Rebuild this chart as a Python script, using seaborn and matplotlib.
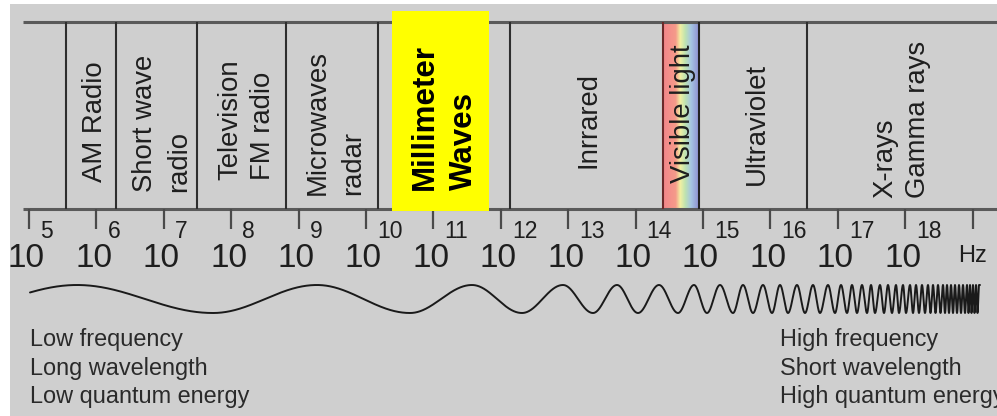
import numpy as np
import matplotlib
matplotlib.use("Agg")
import matplotlib.pyplot as plt
import seaborn as sns
from matplotlib.patches import Rectangle
from matplotlib.colors import LinearSegmentedColormap

sns.set_theme(style="white")
plt.rcParams['font.family'] = ['Liberation Sans', 'DejaVu Sans']

# ---------------- data ----------------
tick_exponents = list(range(5, 20))          # tick marks (10^5 .. 10^19)
label_exponents = list(range(5, 19))         # labelled ticks (10^5 .. 10^18)
band_boundaries = [5.55, 6.29, 7.49, 8.81, 10.18, 12.14, 16.54]  # log10(Hz)
visible_band = [14.41, 14.94]                # log10(Hz)
millimeter_band = [10.39, 11.83]             # log10(Hz), highlighted box
band_names = ["AM Radio", "Short wave", "radio", "Television", "FM radio",
              "Microwaves", "radar", "Inrrared", "Visible light",
              "Ultraviolet", "X-rays", "Gamma rays"]
highlight_lines = ["Millimeter", "Waves"]
left_notes = ["Low frequency", "Long wavelength", "Low quantum energy"]
right_notes = ["High frequency", "Short wavelength", "High quantum energy"]
# x positions (px) of successive crests / troughs of the chirp wave
wave_extrema_px = [77, 213, 317, 410, 472, 522, 563, 593, 617, 638, 659, 678,
                   694, 707, 720, 733, 743, 753, 763, 772, 780, 788, 797, 805,
                   813, 820, 828, 835, 841, 847, 852, 857, 862, 867, 871, 875,
                   880, 884, 888, 892, 896, 899, 903, 906, 910, 913, 916, 919,
                   922, 925, 928, 930.5, 933, 935.5, 938, 940.5, 943, 945,
                   947, 949, 951, 953, 955, 957, 959, 961, 963, 965, 967,
                   968.5, 970, 971.5, 973, 974.5, 976, 977.5, 979]

# ---------------- layout ----------------
W, H = 997, 416
PX0, PXDEC = 29.0, 67.4          # pixel of 10^5 tick, pixels per decade


def dec(px):
    return 5 + (px - PX0) / PXDEC


fig = plt.figure(figsize=(W / 100, H / 100), dpi=100, facecolor="white")

# pixel-coordinate background axes
axb = fig.add_axes([0, 0, 1, 1])
axb.set_xlim(0, W)
axb.set_ylim(H, 0)
axb.axis("off")
axb.add_patch(Rectangle((10, 4), W - 10, H - 4, color="#cfcfcf", zorder=0, lw=0))

# decade-coordinate spectrum axes
ax = fig.add_axes([0, 0, 1, 1])
ax.set_xlim(dec(0), dec(W))
ax.set_ylim(H, 0)
ax.axis("off")
ax.patch.set_alpha(0)

TOP, BOT = 22, 209
line_col = "#5a5a5a"
ax.plot([dec(23), dec(W)], [TOP, TOP], color=line_col, lw=2.2, solid_capstyle="butt")
ax.plot([dec(23), dec(W)], [BOT, BOT], color=line_col, lw=2.2, solid_capstyle="butt")
ax.vlines(band_boundaries, TOP, BOT, color="#2e2e2e", lw=1.5)
ax.vlines(tick_exponents, BOT, 229, color="#4a4a4a", lw=1.6)

# visible light gradient
cmap = LinearSegmentedColormap.from_list(
    "vis", [(0.0, "#f2868a"), (0.35, "#f59a8a"), (0.48, "#f2f0a2"),
            (0.62, "#bfe3b0"), (0.78, "#a6c6e2"), (1.0, "#8f90d2")])
grad = np.linspace(0, 1, 200)[None, :]
ax.imshow(grad, cmap=cmap, aspect="auto",
          extent=(visible_band[0], visible_band[1], BOT - 1, TOP + 1), zorder=1)
ax.vlines([visible_band[0]], TOP, BOT, color="#6b2a2a", lw=1.5, zorder=2)
ax.vlines([visible_band[1]], TOP, BOT, color="#222222", lw=1.5, zorder=2)

# band labels: (baseline px, start/bottom px)
label_pos = [(102, 182), (152, 192), (186, 192), (237, 180), (270, 180),
             (325, 195), (360, 195), (595, 168), (690, 183), (764, 185),
             (892, 198), (925, 198)]
for name, (bx, by) in zip(band_names, label_pos):
    ax.text(dec(bx), by, name, rotation=90, rotation_mode="anchor",
            ha="left", va="baseline", fontsize=19.8, color="#1e1e1e", zorder=3)

# highlighted millimeter-wave box
ax.add_patch(Rectangle((millimeter_band[0], 11), millimeter_band[1] - millimeter_band[0],
                       200, color="#ffff00", lw=0, zorder=5))
for txt, bx in zip(highlight_lines, [433, 472]):
    ax.text(dec(bx), 190, txt, rotation=90, rotation_mode="anchor",
            ha="left", va="baseline", fontsize=22.5, fontweight="bold",
            color="black", zorder=6)

# tick labels
for e in label_exponents:
    ax.text(e - 2.5 / PXDEC, 267, "10", ha="center", va="baseline",
            fontsize=24, color="#1e1e1e")
    ax.text(e + 11 / PXDEC, 238, str(e), ha="left", va="baseline",
            fontsize=16.5, color="#1e1e1e")
ax.text(dec(958), 262, "Hz", ha="left", va="baseline", fontsize=17, color="#1e1e1e")

# chirp wave
ext = np.array(wave_extrema_px, dtype=float)
ph = np.arange(len(ext)) * np.pi
xs = np.linspace(30, 980, 12000)
phase = np.interp(xs, ext, ph)
left = xs < ext[0]
phase[left] = (xs[left] - ext[0]) / (ext[1] - ext[0]) * np.pi
ys = 299 - 14 * np.cos(phase)
axb.plot(xs, ys, color="#1a1a1a", lw=1.4, zorder=2)

# bottom notes
for i, t in enumerate(left_notes):
    axb.text(30, 346 + i * 28.5, t, ha="left", va="baseline", fontsize=16.9,
             color="#2a2a2a")
for i, t in enumerate(right_notes):
    axb.text(780, 346 + i * 28.5, t, ha="left", va="baseline", fontsize=16.9,
             color="#2a2a2a")

fig.savefig("out.png", dpi=100, facecolor="white")
